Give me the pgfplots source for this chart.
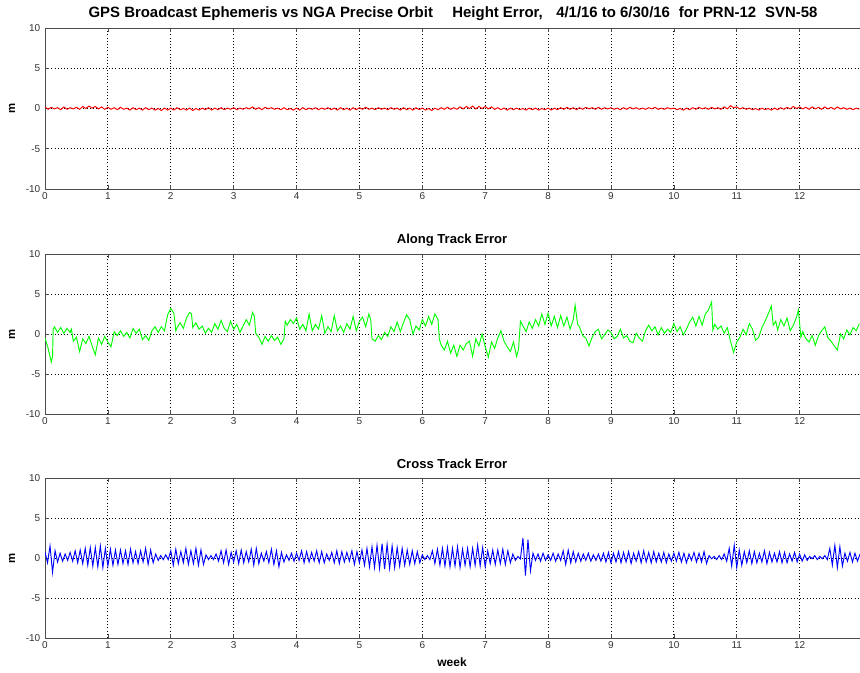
\documentclass[border=0pt]{standalone}
\usepackage{pgfplots}
\pgfplotsset{compat=1.18}
\usepackage{fontspec}
\setmainfont{Liberation Sans}
\begin{document}
\begin{tikzpicture}
\path[use as bounding box] (0pt,0pt) rectangle (645pt,-504.75pt);
\pgfplotsset{panel/.style={
  width=611.25pt, height=120pt, scale only axis,
  xmin=0, xmax=12.96, ymin=-10, ymax=10,
  xtick={0,1,...,12}, ytick={-10,-5,0,5,10},
  grid=major, major grid style={black, line width=0.6pt, dash pattern=on 0.8pt off 1.6pt},
  tick align=inside, major tick length=3pt,
  axis y line*=left, axis line style={black!70, line width=0.7pt},
  every tick/.style={black!70, line width=0.5pt},
  tick label style={font=\fontsize{7.5}{8}\selectfont, text=black!80},
  /pgf/number format/assume math mode=true,
  xticklabel style={yshift=1pt},
  clip=true, anchor=north west}}
% Panel 1: height error
\begin{axis}[panel, at={(33.75pt,-21pt)}, height=120.75pt]
\addplot[red, line width=0.7pt] coordinates {
(0,0.2)(0.05,-0.1)(0.1,0.15)(0.15,-0.05)(0.2,0.1)(0.25,-0.15)(0.3,0.2)(0.35,-0.1)(0.4,0.1)(0.45,-0.05)
(0.5,0.15)(0.55,-0.1)(0.6,0.25)(0.65,0.0)(0.7,0.3)(0.75,0.05)(0.8,0.25)(0.85,-0.05)(0.9,0.2)(0.95,-0.1)
(1.0,0.15)(1.05,-0.1)(1.1,0.1)(1.15,-0.15)(1.2,0.15)(1.25,-0.1)(1.3,0.05)(1.35,-0.2)(1.4,0.1)(1.45,-0.15)
(1.5,0.05)(1.55,-0.2)(1.6,0.1)(1.65,-0.15)(1.7,0.05)(1.75,-0.2)(1.8,0.0)(1.85,-0.25)(1.9,0.05)(1.95,-0.2)
(2.0,0.05)(2.05,-0.2)(2.1,0.1)(2.15,-0.15)(2.2,0.0)(2.25,-0.2)(2.3,0.05)(2.35,-0.25)(2.4,0.0)(2.45,-0.2)
(2.5,0.05)(2.55,-0.15)(2.6,0.1)(2.65,-0.2)(2.7,0.05)(2.75,-0.15)(2.8,0.1)(2.85,-0.15)(2.9,0.05)(2.95,-0.1)
(3.0,0.1)(3.05,-0.15)(3.1,0.05)(3.15,-0.1)(3.2,0.1)(3.25,-0.05)(3.3,0.2)(3.35,-0.1)(3.4,0.1)(3.45,-0.15)
(3.5,0.15)(3.55,-0.05)(3.6,0.1)(3.65,-0.1)(3.7,0.05)(3.75,-0.15)(3.8,0.1)(3.85,-0.15)(3.9,0.0)(3.95,-0.2)
(4.0,0.05)(4.05,-0.2)(4.1,0.1)(4.15,-0.15)(4.2,0.05)(4.25,-0.1)(4.3,0.1)(4.35,-0.15)(4.4,0.05)(4.45,-0.1)
(4.5,0.1)(4.55,-0.15)(4.6,0.05)(4.65,-0.2)(4.7,0.1)(4.75,-0.15)(4.8,0.05)(4.85,-0.2)(4.9,0.1)(4.95,-0.15)
(5.0,0.1)(5.05,-0.1)(5.1,0.15)(5.15,-0.1)(5.2,0.05)(5.25,-0.15)(5.3,0.1)(5.35,-0.1)(5.4,0.05)(5.45,-0.15)
(5.5,0.1)(5.55,-0.1)(5.6,0.05)(5.65,-0.2)(5.7,0.1)(5.75,-0.15)(5.8,0.05)(5.85,-0.2)(5.9,0.1)(5.95,-0.15)
(6.0,0.05)(6.05,-0.2)(6.1,0.0)(6.15,-0.25)(6.2,0.05)(6.25,-0.15)(6.3,0.1)(6.35,-0.1)(6.4,0.15)(6.45,-0.1)
(6.5,0.1)(6.55,-0.1)(6.6,0.2)(6.65,-0.05)(6.7,0.25)(6.75,0.0)(6.8,0.3)(6.85,-0.05)(6.9,0.25)(6.95,0.0)
(7.0,0.25)(7.05,-0.05)(7.1,0.2)(7.15,-0.1)(7.2,0.1)(7.25,-0.15)(7.3,0.05)(7.35,-0.2)(7.4,0.05)(7.45,-0.15)
(7.5,0.05)(7.55,-0.15)(7.6,0.0)(7.65,-0.2)(7.7,0.05)(7.75,-0.15)(7.8,0.05)(7.85,-0.2)(7.9,0.0)(7.95,-0.15)
(8.0,0.05)(8.05,-0.2)(8.1,0.05)(8.15,-0.15)(8.2,0.1)(8.25,-0.1)(8.3,0.15)(8.35,-0.1)(8.4,0.1)(8.45,-0.15)
(8.5,0.1)(8.55,-0.1)(8.6,0.15)(8.65,-0.05)(8.7,0.1)(8.75,-0.1)(8.8,0.15)(8.85,-0.1)(8.9,0.1)(8.95,-0.05)
(9.0,0.1)(9.05,-0.1)(9.1,0.05)(9.15,-0.15)(9.2,0.1)(9.25,-0.1)(9.3,0.15)(9.35,-0.05)(9.4,0.1)(9.45,-0.1)
(9.5,0.05)(9.55,-0.1)(9.6,0.1)(9.65,-0.05)(9.7,0.15)(9.75,-0.1)(9.8,0.05)(9.85,-0.1)(9.9,0.1)(9.95,-0.05)
(10.0,0.05)(10.05,-0.15)(10.1,0.0)(10.15,-0.2)(10.2,0.05)(10.25,-0.15)(10.3,0.1)(10.35,-0.1)(10.4,0.15)(10.45,-0.05)
(10.5,0.1)(10.55,-0.1)(10.6,0.15)(10.65,-0.05)(10.7,0.1)(10.75,-0.1)(10.8,0.2)(10.85,-0.05)(10.9,0.35)(10.95,0.1)
(11.0,0.2)(11.05,-0.05)(11.1,0.1)(11.15,-0.1)(11.2,0.05)(11.25,-0.15)(11.3,0.0)(11.35,-0.2)(11.4,0.05)(11.45,-0.15)
(11.5,0.0)(11.55,-0.2)(11.6,0.05)(11.65,-0.15)(11.7,0.1)(11.75,-0.1)(11.8,0.15)(11.85,-0.05)(11.9,0.25)(11.95,0.0)
(12.0,0.2)(12.05,-0.05)(12.1,0.15)(12.15,-0.1)(12.2,0.2)(12.25,-0.05)(12.3,0.15)(12.35,-0.1)(12.4,0.2)(12.45,-0.05)
(12.5,0.15)(12.55,-0.1)(12.6,0.2)(12.65,-0.05)(12.7,0.1)(12.75,-0.1)(12.8,0.05)(12.85,-0.15)(12.9,0.05)(12.95,-0.1)
};
\end{axis}
% Panel 2: along track
\begin{axis}[panel, at={(33.75pt,-190.5pt)}]
\addplot[green, line width=0.7pt] coordinates {
(0,-0.5)(0.05,-1.8)(0.1,-3.5)(0.12,-2.8)(0.13,0.6)(0.15,0.9)(0.2,0.2)(0.25,0.8)(0.3,0.1)(0.35,0.7)(0.4,0.2)(0.42,0.6)(0.45,-0.9)
(0.5,-0.4)(0.55,-2.2)(0.6,-0.6)(0.65,-1.2)(0.7,-0.3)(0.75,-1.5)(0.8,-2.6)(0.85,-0.5)(0.9,-1.3)(0.95,-0.3)
(1.0,-1.0)(1.05,-1.6)(1.1,0.3)(1.15,-0.2)(1.2,0.4)(1.25,-0.3)(1.3,0.2)(1.35,-0.5)(1.4,0.7)(1.45,0.1)
(1.5,0.6)(1.55,-0.7)(1.6,-0.2)(1.65,-0.8)(1.7,0.4)(1.75,0.9)(1.8,0.2)(1.85,0.9)(1.9,0.4)(1.95,2.4)
(2.0,3.2)(2.05,2.6)(2.08,0.4)(2.1,0.8)(2.15,1.4)(2.2,0.7)(2.25,2.0)(2.3,2.7)(2.33,2.5)(2.35,0.8)(2.4,1.4)(2.45,0.6)
(2.5,1.0)(2.55,0.1)(2.6,0.7)(2.65,0.2)(2.7,1.3)(2.75,0.6)(2.8,1.7)(2.85,0.7)(2.9,0.3)(2.95,1.6)
(3.0,0.6)(3.05,1.2)(3.1,0.2)(3.15,1.0)(3.2,1.8)(3.25,1.1)(3.3,2.7)(3.33,2.2)(3.35,0.1)(3.4,-0.4)(3.45,-1.3)
(3.5,-0.3)(3.55,-0.9)(3.6,-0.2)(3.65,-0.8)(3.7,-0.4)(3.75,-1.3)(3.8,-0.6)(3.82,1.6)(3.85,1.1)(3.9,1.8)(3.95,1.3)
(4.0,2.0)(4.05,0.6)(4.1,1.2)(4.15,0.4)(4.2,2.5)(4.25,0.4)(4.3,1.2)(4.35,0.6)(4.4,2.3)(4.45,0.1)
(4.5,0.9)(4.55,0.3)(4.6,2.3)(4.65,0.4)(4.7,1.0)(4.75,0.2)(4.8,1.3)(4.85,0.6)(4.9,2.2)(4.95,0.4)
(5.0,1.6)(5.05,2.1)(5.1,0.9)(5.15,2.5)(5.18,1.8)(5.2,-0.6)(5.25,-0.9)(5.3,-0.2)(5.35,-0.7)(5.4,0.2)(5.45,-0.3)
(5.5,0.9)(5.55,0.3)(5.6,1.5)(5.65,0.3)(5.7,1.4)(5.75,2.4)(5.8,1.8)(5.85,0.0)(5.9,1.0)(5.95,0.5)
(6.0,1.8)(6.05,1.0)(6.1,2.2)(6.15,1.2)(6.2,2.5)(6.25,1.8)(6.27,-0.6)(6.3,-1.4)(6.35,-2.0)(6.4,-0.9)(6.45,-2.4)
(6.5,-1.4)(6.55,-2.8)(6.6,-1.4)(6.65,-2.0)(6.7,-1.2)(6.75,-0.9)(6.8,-2.8)(6.85,-0.6)(6.9,-1.5)(6.95,0.0)
(7.0,-1.6)(7.05,-2.9)(7.1,-1.0)(7.15,-1.8)(7.2,-0.5)(7.25,0.4)(7.3,-0.9)(7.35,-1.6)(7.4,-2.2)(7.45,-1.0)
(7.5,-2.8)(7.53,-1.9)(7.56,1.6)(7.6,1.0)(7.65,0.3)(7.7,1.5)(7.75,0.7)(7.8,1.8)(7.85,1.0)(7.9,2.5)(7.95,1.2)
(8.0,2.6)(8.05,1.0)(8.1,2.2)(8.15,0.8)(8.2,2.3)(8.25,1.0)(8.3,2.1)(8.35,0.6)(8.4,1.8)(8.43,3.6)(8.47,1.2)
(8.5,0.9)(8.55,-0.2)(8.6,-0.5)(8.65,-1.5)(8.7,-0.4)(8.75,0.3)(8.8,0.6)(8.85,-0.6)(8.9,-0.1)(8.95,0.5)
(9.0,0.2)(9.05,-0.6)(9.1,-0.3)(9.15,0.6)(9.2,-0.5)(9.25,-0.2)(9.3,-0.9)(9.35,-1.1)(9.4,0.1)(9.45,-0.5)
(9.5,-0.9)(9.55,0.4)(9.6,1.1)(9.65,0.4)(9.7,0.9)(9.75,-0.1)(9.8,0.8)(9.85,0.1)(9.9,0.6)(9.95,0.2)
(10.0,1.3)(10.05,0.3)(10.1,0.9)(10.15,-0.1)(10.2,0.6)(10.25,1.5)(10.3,2.1)(10.35,1.0)(10.4,2.2)(10.45,1.1)
(10.5,2.5)(10.55,3.0)(10.6,4.0)(10.62,0.5)(10.65,1.2)(10.7,0.6)(10.75,1.0)(10.8,0.1)(10.85,0.8)(10.9,-0.9)(10.95,-2.3)
(11.0,-1.0)(11.05,-0.4)(11.1,0.6)(11.15,-0.1)(11.2,1.3)(11.25,0.6)(11.3,-0.8)(11.35,-0.4)(11.4,0.8)(11.45,1.6)
(11.5,2.5)(11.55,3.5)(11.58,1.1)(11.62,1.6)(11.65,0.5)(11.7,1.8)(11.75,1.0)(11.8,2.0)(11.85,0.4)(11.9,1.1)(11.95,2.1)(11.98,3.0)
(12.02,-0.4)(12.05,0.3)(12.1,-0.6)(12.15,-1.0)(12.2,-0.2)(12.25,-1.4)(12.3,-0.2)(12.35,0.4)(12.4,0.9)(12.45,-0.5)
(12.5,-0.9)(12.55,-1.5)(12.6,-2.0)(12.65,0.0)(12.7,-0.6)(12.75,0.5)(12.8,-0.1)(12.85,0.8)(12.9,0.4)(12.95,1.3)
};
\end{axis}
% Panel 3: cross track
\begin{axis}[panel, at={(33.75pt,-358.5pt)}]
\addplot[blue, line width=0.7pt] coordinates {
(0,0.8)(0.04,-0.6)(0.08,1.5)(0.12,-1.8)(0.16,0.9)(0.2,-0.5)(0.24,0.6)(0.28,-0.4)(0.32,0.5)(0.36,-0.3)
(0.4,0.7)(0.44,-0.4)(0.48,0.9)(0.52,-0.6)(0.56,1.0)(0.6,-0.7)(0.64,1.2)(0.68,-0.9)(0.72,1.3)(0.76,-1.0)
(0.8,1.3)(0.84,-1.1)(0.88,1.5)(0.92,-1.2)(0.96,1.2)(1.0,-1.0)(1.04,1.1)(1.08,-0.9)(1.12,1.0)(1.16,-0.8)
(1.2,1.0)(1.24,-0.7)(1.28,0.9)(1.32,-0.8)(1.36,1.1)(1.4,-0.6)(1.44,0.8)(1.48,-0.7)(1.52,0.9)(1.56,-0.5)
(1.6,1.2)(1.64,-0.8)(1.68,1.0)(1.72,-0.6)(1.76,0.5)(1.8,-0.3)(1.84,0.3)(1.88,-0.2)(1.92,0.4)(1.96,-0.2)
(2.0,0.9)(2.04,-0.9)(2.08,1.1)(2.12,-0.7)(2.16,0.8)(2.2,-0.6)(2.24,1.2)(2.28,-0.8)(2.32,0.9)(2.36,-0.7)
(2.4,1.2)(2.44,-0.9)(2.48,1.0)(2.52,-0.8)(2.56,0.4)(2.6,-0.2)(2.64,0.3)(2.68,-0.2)(2.72,0.5)(2.76,-0.4)
(2.8,0.9)(2.84,-0.6)(2.88,1.0)(2.92,-0.8)(2.96,0.7)(3.0,-0.5)(3.04,0.9)(3.08,-0.7)(3.12,1.0)(3.16,-0.6)
(3.2,0.8)(3.24,-0.5)(3.28,1.1)(3.32,-0.9)(3.36,1.2)(3.4,-0.7)(3.44,0.6)(3.48,-0.4)(3.52,0.8)(3.56,-0.6)
(3.6,1.1)(3.64,-0.8)(3.68,0.9)(3.72,-1.1)(3.76,0.7)(3.8,-0.5)(3.84,0.4)(3.88,-0.3)(3.92,0.6)(3.96,-0.4)
(4.0,0.6)(4.04,-0.3)(4.08,0.9)(4.12,-0.6)(4.16,0.8)(4.2,-0.5)(4.24,0.7)(4.28,-0.4)(4.32,0.9)(4.36,-0.6)
(4.4,0.8)(4.44,-0.6)(4.48,0.5)(4.52,-0.3)(4.56,0.7)(4.6,-0.6)(4.64,0.9)(4.68,-0.7)(4.72,0.8)(4.76,-0.5)
(4.8,0.7)(4.84,-0.4)(4.88,0.9)(4.92,-0.8)(4.96,0.8)(5.0,-0.6)(5.04,1.0)(5.08,-0.9)(5.12,1.2)(5.16,-1.1)
(5.2,1.4)(5.24,-1.2)(5.28,1.6)(5.32,-1.3)(5.36,1.8)(5.4,-1.4)(5.44,1.7)(5.48,-1.3)(5.52,1.5)(5.56,-1.2)
(5.6,1.3)(5.64,-1.0)(5.68,1.2)(5.72,-0.9)(5.76,1.0)(5.8,-0.8)(5.84,0.9)(5.88,-0.7)(5.92,0.8)(5.96,-0.6)
(6.0,0.4)(6.04,-0.2)(6.08,0.3)(6.12,-0.2)(6.16,0.9)(6.2,-0.7)(6.24,1.1)(6.28,-0.9)(6.32,1.2)(6.36,-1.0)
(6.4,1.3)(6.44,-1.1)(6.48,1.2)(6.52,-1.0)(6.56,1.4)(6.6,-1.2)(6.64,1.1)(6.68,-0.9)(6.72,1.2)(6.76,-1.1)
(6.8,1.2)(6.84,-0.9)(6.88,1.6)(6.92,-1.0)(6.96,1.3)(7.0,-1.1)(7.04,0.9)(7.08,-0.7)(7.12,1.0)(7.16,-0.8)
(7.2,1.0)(7.24,-0.7)(7.28,1.1)(7.32,-0.8)(7.36,0.9)(7.4,-0.6)(7.44,0.5)(7.48,-0.3)(7.52,0.2)(7.56,-0.1)
(7.6,2.5)(7.64,-2.2)(7.68,2.3)(7.72,-1.6)(7.76,0.6)(7.8,-0.3)(7.84,0.5)(7.88,-0.4)(7.92,0.6)(7.96,-0.3)
(8.0,0.4)(8.04,-0.3)(8.08,0.6)(8.12,-0.4)(8.16,0.5)(8.2,-0.3)(8.24,0.9)(8.28,-0.8)(8.32,1.0)(8.36,-0.6)
(8.4,0.8)(8.44,-0.5)(8.48,0.6)(8.52,-0.4)(8.56,0.5)(8.6,-0.3)(8.64,0.6)(8.68,-0.4)(8.72,0.4)(8.76,-0.3)
(8.8,0.5)(8.84,-0.4)(8.88,0.6)(8.92,-0.5)(8.96,0.7)(9.0,-0.6)(9.04,0.6)(9.08,-0.5)(9.12,0.8)(9.16,-0.6)
(9.2,0.7)(9.24,-0.5)(9.28,0.8)(9.32,-0.7)(9.36,0.6)(9.4,-0.4)(9.44,0.8)(9.48,-0.6)(9.52,0.9)(9.56,-0.5)
(9.6,0.7)(9.64,-0.6)(9.68,0.8)(9.72,-0.5)(9.76,0.6)(9.8,-0.5)(9.84,0.7)(9.88,-0.6)(9.92,0.5)(9.96,-0.4)
(10.0,0.6)(10.04,-0.4)(10.08,0.7)(10.12,-0.5)(10.16,0.6)(10.2,-0.6)(10.24,0.5)(10.28,-0.3)(10.32,0.7)(10.36,-0.5)
(10.4,0.6)(10.44,-0.5)(10.48,0.8)(10.52,-0.7)(10.56,0.3)(10.6,-0.1)(10.64,0.2)(10.68,-0.2)(10.72,0.3)(10.76,-0.2)
(10.8,0.5)(10.84,-0.4)(10.88,1.2)(10.92,-1.0)(10.96,1.6)(11.0,-1.2)(11.04,1.0)(11.08,-0.9)(11.12,0.8)(11.16,-0.6)
(11.2,0.9)(11.24,-0.7)(11.28,0.8)(11.32,-0.6)(11.36,0.6)(11.4,-0.5)(11.44,0.9)(11.48,-0.7)(11.52,0.7)(11.56,-0.5)
(11.6,0.6)(11.64,-0.5)(11.68,0.8)(11.72,-0.6)(11.76,0.7)(11.8,-0.6)(11.84,0.5)(11.88,-0.4)(11.92,0.7)(11.96,-0.5)
(12.0,0.5)(12.04,-0.4)(12.08,0.4)(12.12,-0.3)(12.16,0.2)(12.2,-0.1)(12.24,0.3)(12.28,-0.2)(12.32,0.2)(12.36,-0.1)
(12.4,0.3)(12.44,-0.2)(12.48,1.2)(12.52,-0.9)(12.56,1.6)(12.6,-1.2)(12.64,1.4)(12.68,-1.0)(12.72,0.6)(12.76,-0.4)
(12.8,0.7)(12.84,-0.5)(12.88,0.6)(12.92,-0.4)(12.96,0.5)
};
\end{axis}
% Titles and labels
\node[font=\bfseries\fontsize{11.2}{13}\selectfont] at (339.75pt,-10.5pt) {GPS Broadcast Ephemeris vs NGA Precise Orbit\hspace{1.3em}Height Error,\hspace{0.9em}4/1/16 to 6/30/16\hspace{0.6em}for PRN-12\hspace{0.6em}SVN-58};
\node[font=\bfseries\fontsize{9.8}{11}\selectfont] at (339pt,-180pt) {Along Track Error};
\node[font=\bfseries\fontsize{9.8}{11}\selectfont] at (339pt,-347.5pt) {Cross Track Error};
\node[font=\bfseries\fontsize{9}{10}\selectfont] at (339pt,-496.5pt) {week};
\node[font=\bfseries\fontsize{8.5}{10}\selectfont, rotate=90] at (9pt,-81pt) {m};
\node[font=\bfseries\fontsize{8.5}{10}\selectfont, rotate=90] at (9pt,-250.5pt) {m};
\node[font=\bfseries\fontsize{8.5}{10}\selectfont, rotate=90] at (9pt,-418.5pt) {m};
\end{tikzpicture}
\end{document}
